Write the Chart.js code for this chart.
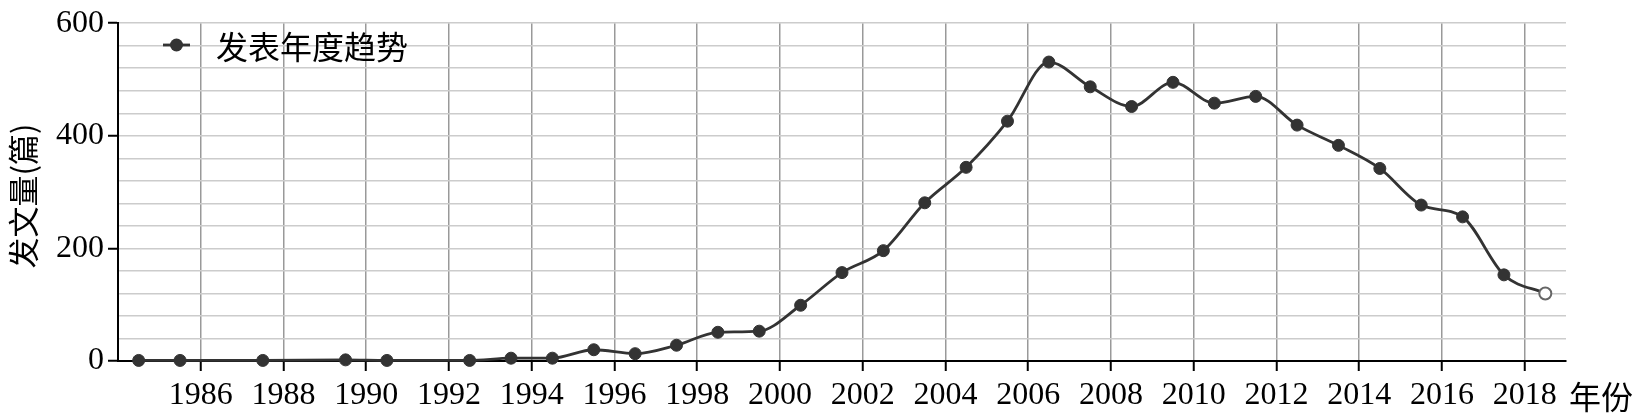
<!DOCTYPE html>
<html><head><meta charset="utf-8">
<script src="https://cdn.jsdelivr.net/npm/chart.js@4/dist/chart.umd.min.js"></script>
<style>html,body{margin:0;padding:0;background:#fff;overflow:hidden}</style>
</head><body>
<canvas id="c" width="1639" height="418"></canvas>
<script>
// ---- data ----
const years  = [1984,1985,1987,1989,1990,1992,1993,1994,1995,1996,1997,1998,1999,2000,2001,2002,2003,2004,2005,2006,2007,2008,2009,2010,2011,2012,2013,2014,2015,2016,2017,2018];
const counts = [1,1,1,2,1,1,5,5,20,13,28,51,53,99,157,196,281,344,426,531,487,452,495,458,470,419,383,342,277,256,153,120];
const xTickYears  = [1986,1988,1990,1992,1994,1996,1998,2000,2002,2004,2006,2008,2010,2012,2014,2016,2018];
const yTickLabels = [0,200,400,600];
const seriesName = '发表年度趋势';
const yTitle = '发文量(篇)';
const xTitle = '年份';

const lineColor = '#333333';
const lastIdx = years.length - 1;
// each year's point sits at the middle of its year interval
const points = years.map((yr, i) => ({x: yr + 0.5, y: counts[i]}));

const textPlugin = {
  id: 'texts',
  afterDraw(chart) {
    const ctx = chart.ctx;
    ctx.save();
    ctx.fillStyle = '#000';
    ctx.font = '31px "Noto Sans CJK SC"';
    ctx.textAlign = 'center';
    ctx.textBaseline = 'middle';
    ctx.translate(23, 196);
    ctx.rotate(-Math.PI / 2);
    ctx.fillText(yTitle, 0, 0);
    ctx.restore();

    ctx.save();
    ctx.fillStyle = '#000';
    ctx.font = '32px "Noto Sans CJK SC"';
    ctx.textAlign = 'left';
    ctx.textBaseline = 'middle';
    ctx.fillText(xTitle, chart.chartArea.right + 3, 397);
    // legend
    ctx.strokeStyle = lineColor;
    ctx.lineWidth = 2.8;
    ctx.beginPath();
    ctx.moveTo(163, 45); ctx.lineTo(190, 45);
    ctx.stroke();
    ctx.fillStyle = lineColor;
    ctx.beginPath();
    ctx.arc(176.5, 45, 6.5, 0, Math.PI * 2);
    ctx.fill();
    ctx.fillStyle = '#000';
    ctx.fillText(seriesName, 216, 47);
    ctx.restore();
  }
};

new Chart(document.getElementById('c'), {
  type: 'line',
  data: {
    datasets: [{
      label: seriesName,
      data: points,
      borderColor: lineColor,
      borderWidth: 2.8,
      cubicInterpolationMode: 'monotone',
      pointRadius: 6,
      pointBorderWidth: ctx => ctx.dataIndex === lastIdx ? 2 : 1,
      pointBackgroundColor: ctx => ctx.dataIndex === lastIdx ? '#ffffff' : lineColor,
      pointBorderColor: ctx => ctx.dataIndex === lastIdx ? '#666666' : lineColor,
      clip: false
    }]
  },
  options: {
    responsive: false,
    animation: false,
    devicePixelRatio: 1,
    layout: {padding: {top: 15, right: 73, left: 0, bottom: 0}},
    plugins: {legend: {display: false}, tooltip: {enabled: false}},
    scales: {
      x: {
        type: 'linear', min: 1984, max: 2019,
        afterBuildTicks: s => { s.ticks = xTickYears.map(v => ({value: v})); },
        afterFit: s => { s.height = 57; },
        grid: {color: '#999999', lineWidth: 1.5, tickLength: 10, tickColor: '#000', tickWidth: 2},
        border: {color: '#000', width: 2},
        ticks: {
          font: {family: '"Liberation Serif"', size: 32}, color: '#000', padding: 5,
          maxRotation: 0, autoSkip: false, callback: v => String(v)
        }
      },
      y: {
        min: 0, max: 600,
        afterFit: s => { s.width = 118; },
        grid: {
          color: c => c.tick && c.tick.value === 0 ? 'rgba(0,0,0,0)' : '#cccccc',
          lineWidth: 1.5, tickLength: 10, tickWidth: 2,
          tickColor: c => yTickLabels.includes(c.tick.value) ? '#000' : 'rgba(0,0,0,0)'
        },
        border: {color: '#000', width: 2},
        ticks: {
          stepSize: 40, autoSkip: false,
          font: {family: '"Liberation Serif"', size: 32}, color: '#000', padding: 4,
          callback: v => yTickLabels.includes(v) ? String(v) : ''
        }
      }
    }
  },
  plugins: [textPlugin]
});
</script>
</body></html>
